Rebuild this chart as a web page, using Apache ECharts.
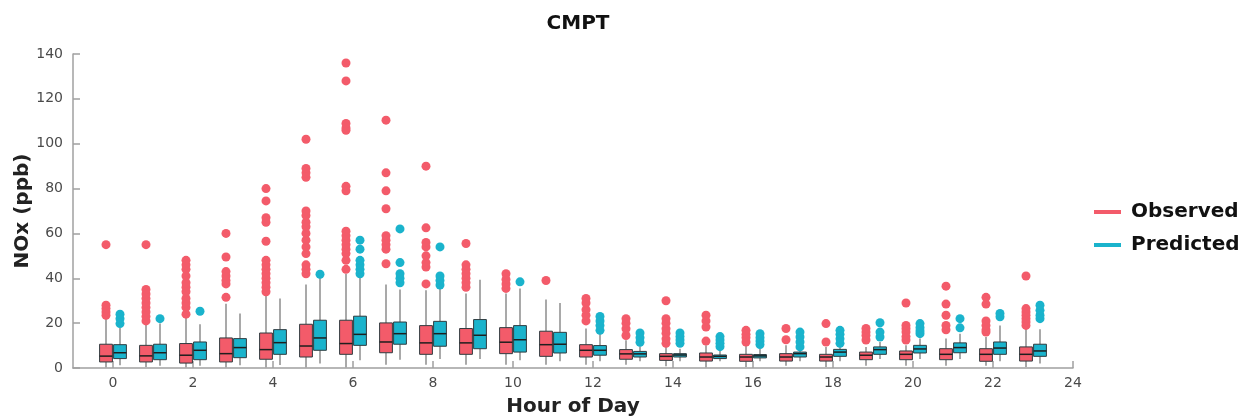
<!DOCTYPE html>
<html>
<head>
<meta charset="utf-8">
<script src="https://cdn.jsdelivr.net/npm/echarts@6/dist/echarts.min.js"></script>
<style>html,body{margin:0;padding:0;background:#fff}#c{width:1254px;height:418px}</style>
</head>
<body>
<div id="c"></div>
<script>
const hours = [0,1,2,3,4,5,6,7,8,9,10,11,12,13,14,15,16,17,18,19,20,21,22,23];
const xTicks = [0,2,4,6,8,10,12,14,16,18,20,22,24];
const yTicks = [0,20,40,60,80,100,120,140];

const obsLow  = [0.3,0.5,0.3,0.3,0.3,0.3,0.3,1.5,1.5,1.5,1.5,1.5,1.5,1.5,0.8,0.3,0.5,1.0,0.5,1.0,1.0,1.0,1.0,0.5];
const obsQ1   = [2.7,2.7,2.2,2.7,3.9,4.9,6.1,6.8,6.1,6.1,6.4,5.2,4.9,3.9,3.4,3.1,3.0,3.1,3.1,3.7,3.7,3.7,3.0,3.1];
const obsMed  = [5.3,5.4,5.7,6.4,8.2,9.8,10.9,11.6,11.2,11.2,11.5,10.4,7.9,6.3,5.2,4.9,4.9,4.9,4.9,5.7,6.1,6.1,6.1,6.1];
const obsQ3   = [10.6,10.1,10.9,13.4,15.6,19.5,21.3,20.1,18.9,17.6,18.0,16.4,10.4,8.2,6.4,6.7,6.1,6.4,6.1,7.1,7.6,8.6,8.6,9.4];
const obsHigh = [22,19.8,22.7,28.7,32.4,37.2,42,37.2,34.7,33.2,33.2,30.5,17.6,12.4,9.7,10.1,10.1,10.1,9.4,9.4,10.1,13.1,13.8,17.6];
const obsOut = [
  [23.5,25,26.5,28,55],
  [21,23,25,27,29,31,33,35,55],
  [24,27,29,31,34,36,38,41,44,46,48],
  [31.5,37.5,39,41,43,49.5,60],
  [34,36,38,40,42,44,46,48,56.5,65,67,74.5,80],
  [42,44,46,51,54,57,60,63,65,68,70,85,87,89,102],
  [44,48,51,53,55,57,59,61,79,81,106,107,109,128,136],
  [46.5,53,55,57,59,71,79,87,110.5],
  [37.5,45,47,50,54,56,62.5,90],
  [36,38,40,42,44,46,55.5],
  [35.5,37.5,39.5,42],
  [39],
  [21,23.5,26,29,31],
  [14.5,17.5,20,22],
  [11,13,15.5,17.5,20,22,30],
  [12,18.3,21,23.5],
  [11.6,13.5,15,16.8],
  [12.6,17.6],
  [11.6,19.8],
  [12.5,14.5,16,17.6],
  [12.5,14,16,17.5,19,29],
  [17,19,23.5,28.5,36.5],
  [16,17,19,21,28.5,31.5],
  [19,20.5,22,23.5,25,26.5,41]
];

const predLow  = [1.2,1,1,1.2,1.3,2,3.5,3.7,4,4,3.5,3,3,3,3,3,3,3,3,4,4,4,3,2];
const predQ1   = [4.2,3.7,3.7,4.6,6.1,7.9,10.1,10.6,9.7,8.6,7.1,6.7,5.7,4.9,4.9,4.2,4.5,4.9,5.2,6.1,6.7,6.8,6.1,5.2];
const predMed  = [6.8,6.8,7.9,9.1,11.3,13.4,15,15.3,15.3,14.6,12.6,10.6,7.9,6.3,5.8,5.2,5.4,6.4,7.1,8.2,8.5,9.1,8.9,7.6];
const predQ3   = [10.4,10.6,11.6,13.1,17.1,21.3,23.1,20.5,20.8,21.6,18.9,15.9,10,7.4,6.4,5.8,6,7.1,8.3,9.4,10.1,11.2,11.6,10.6];
const predHigh = [18,19.8,19.5,24.3,31,40.2,40.6,35,35.9,39.4,35.4,29,15.6,9.7,8.6,7.9,8.6,7.9,10,11.6,13.1,15.3,19,17.3];
const predOut = [
  [19.8,22,24],
  [22],
  [25.3],
  [],
  [],
  [41.8],
  [42,44,46,48,53,57],
  [38,40,42,47,62],
  [37,39,41,54],
  [],
  [38.4],
  [],
  [16.8,19,21,23],
  [11.5,13.5,15.6],
  [11,12.5,14,15.6],
  [9.5,11,12.5,14],
  [10.5,12,13.5,15.3],
  [9.4,11.6,13.8,16],
  [11,13,15,16.8],
  [13.8,16,20.2],
  [15.3,16.5,18,19.8],
  [17.9,22],
  [22.8,24.3],
  [22,23.5,25.7,28]
];

const RED = '#F35B6A';
const CYAN = '#1AB3CC';
const OBS_OFF = -0.175, PRED_OFF = 0.175, BOX_W = 0.32;
const FONT = 'DejaVu Sans';

function boxData(lo, q1, md, q3, hi) {
  return hours.map((h, i) => [h, lo[i], q1[i], md[i], q3[i], hi[i]]);
}
function outData(out, off) {
  const d = [];
  hours.forEach((h, i) => out[i].forEach(v => d.push([h + off, v])));
  return d;
}
function makeRender(off, color) {
  return function (params, api) {
    const h = api.value(0) + off;
    const lo = api.coord([h, api.value(1)]);
    const q1 = api.coord([h, api.value(2)]);
    const md = api.coord([h, api.value(3)]);
    const q3 = api.coord([h, api.value(4)]);
    const hi = api.coord([h, api.value(5)]);
    const w = api.size([BOX_W, 0])[0];
    const x = lo[0];
    const wStyle = { stroke: '#707070', lineWidth: 1.2 };
    return {
      type: 'group',
      children: [
        { type: 'line', shape: { x1: x, y1: hi[1], x2: x, y2: q3[1] }, style: wStyle },
        { type: 'line', shape: { x1: x, y1: q1[1], x2: x, y2: lo[1] }, style: wStyle },
        { type: 'rect', shape: { x: x - w / 2, y: q3[1], width: w, height: q1[1] - q3[1] },
          style: { fill: color, stroke: '#2f3b3f', lineWidth: 1 } },
        { type: 'line', shape: { x1: x - w / 2, y1: md[1], x2: x + w / 2, y2: md[1] },
          style: { stroke: '#1e1e1e', lineWidth: 1.5 } }
      ]
    };
  };
}

const chart = echarts.init(document.getElementById('c'));
chart.setOption({
  backgroundColor: '#fff',
  animation: false,
  title: {
    text: 'CMPT', left: 573, top: 9, textAlign: 'center',
    textStyle: { fontFamily: FONT, fontSize: 20, fontWeight: 'bold', color: '#111' }
  },
  legend: {
    orient: 'vertical', left: 1089, top: 196, itemGap: 11,
    itemWidth: 27, itemHeight: 4, icon: 'rect',
    textStyle: { fontFamily: FONT, fontSize: 20, lineHeight: 22, fontWeight: 'bold', color: '#111', padding: [0,0,0,5] },
    data: [
      { name: 'Observed', itemStyle: { color: RED } },
      { name: 'Predicted', itemStyle: { color: CYAN } }
    ]
  },
  grid: { left: 73, right: 181, top: 54, bottom: 50, containLabel: false, outerBoundsMode: 'none' },
  xAxis: {
    type: 'value', min: -1, max: 24,
    name: 'Hour of Day', nameLocation: 'middle', nameGap: 29, nameMoveOverlap: false,
    nameTextStyle: { fontFamily: FONT, fontSize: 20, lineHeight: 20, fontWeight: 'bold', color: '#222' },
    axisLine: { show: true, onZero: false, lineStyle: { color: '#a0a0a0', width: 1.5 } },
    axisTick: { show: true, inside: true, length: 7, customValues: xTicks, lineStyle: { color: '#a0a0a0', width: 1.5 } },
    axisLabel: { customValues: xTicks, fontFamily: FONT, fontSize: 14, color: '#4a4a4a', margin: 8 },
    splitLine: { show: false }
  },
  yAxis: {
    type: 'value', min: 0, max: 140, interval: 20,
    name: 'NOx (ppb)', nameLocation: 'middle', nameGap: 40, nameRotate: 90, nameMoveOverlap: false,
    nameTextStyle: { fontFamily: FONT, fontSize: 20, lineHeight: 20, fontWeight: 'bold', color: '#222' },
    axisLine: { show: true, onZero: false, lineStyle: { color: '#a0a0a0', width: 1.5 } },
    axisTick: { show: true, inside: true, length: 7, lineStyle: { color: '#a0a0a0', width: 1.5 } },
    axisLabel: { fontFamily: FONT, fontSize: 14, color: '#4a4a4a', margin: 10,
      formatter: v => (yTicks.indexOf(v) >= 0 ? String(v) : '') },
    splitLine: { show: false }
  },
  series: [
    {
      name: 'Observed', type: 'custom', renderItem: makeRender(OBS_OFF, RED),
      itemStyle: { color: RED },
      encode: { x: 0, y: [1, 2, 3, 4, 5] },
      data: boxData(obsLow, obsQ1, obsMed, obsQ3, obsHigh), z: 2
    },
    {
      name: 'Predicted', type: 'custom', renderItem: makeRender(PRED_OFF, CYAN),
      itemStyle: { color: CYAN },
      encode: { x: 0, y: [1, 2, 3, 4, 5] },
      data: boxData(predLow, predQ1, predMed, predQ3, predHigh), z: 2
    },
    {
      name: 'Observed', type: 'scatter', symbol: 'circle', symbolSize: 9,
      itemStyle: { color: RED, opacity: 1 },
      data: outData(obsOut, OBS_OFF), z: 3
    },
    {
      name: 'Predicted', type: 'scatter', symbol: 'circle', symbolSize: 9,
      itemStyle: { color: CYAN, opacity: 1 },
      data: outData(predOut, PRED_OFF), z: 3
    }
  ]
});
</script>
</body>
</html>
